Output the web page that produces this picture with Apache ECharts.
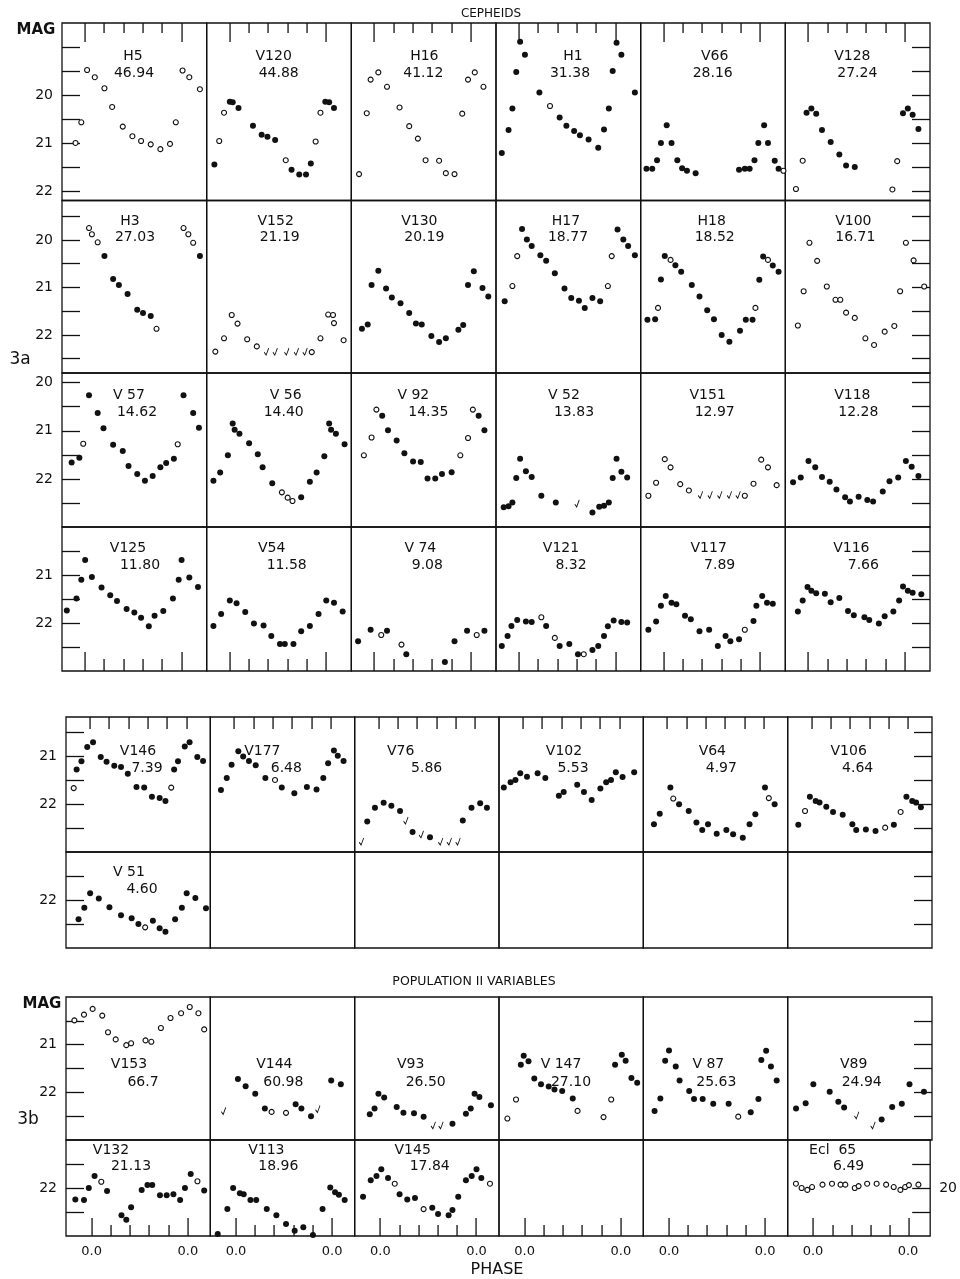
<!DOCTYPE html>
<html>
<head>
<meta charset="utf-8">
<script src="https://cdn.jsdelivr.net/npm/echarts@6/dist/echarts.min.js"></script>
<style>
  html, body { margin: 0; padding: 0; background: #ffffff; }
  #chart { width: 960px; height: 1279px; }
</style>
</head>
<body>
<div id="chart"></div>
<script>
// Light curves: each point is [phase, magnitude, kind]
// kind: 'f' = filled dot, 'o' = open circle, 'v' = fainter-than limit (check mark)

// ---- Cepheids, row 1
const H5 = [[-0.10,21.00,'o'],[-0.04,20.57,'o'],[0.02,19.48,'o'],[0.10,19.63,'o'],[0.20,19.86,'o'],[0.28,20.25,'o'],[0.39,20.66,'o'],[0.49,20.86,'o'],[0.58,20.96,'o'],[0.68,21.03,'o'],[0.78,21.13,'o'],[0.88,21.02,'o'],[0.94,20.57,'o'],[1.01,19.49,'o'],[1.08,19.63,'o'],[1.19,19.88,'o']];
const V120 = [[-0.16,21.45,'f'],[-0.11,20.96,'o'],[-0.06,20.37,'o'],[0.00,20.14,'f'],[0.03,20.15,'f'],[0.09,20.27,'f'],[0.24,20.64,'f'],[0.33,20.83,'f'],[0.39,20.87,'f'],[0.47,20.94,'f'],[0.58,21.36,'o'],[0.64,21.56,'f'],[0.72,21.66,'f'],[0.79,21.66,'f'],[0.84,21.43,'f'],[0.89,20.97,'o'],[0.94,20.37,'o'],[0.99,20.14,'f'],[1.03,20.15,'f'],[1.08,20.27,'f']];
const H16 = [[-0.16,21.65,'o'],[-0.08,20.38,'o'],[-0.04,19.68,'o'],[0.04,19.53,'o'],[0.13,19.83,'o'],[0.26,20.26,'o'],[0.36,20.65,'o'],[0.45,20.91,'o'],[0.53,21.36,'o'],[0.67,21.37,'o'],[0.74,21.63,'o'],[0.83,21.65,'o'],[0.91,20.39,'o'],[0.97,19.68,'o'],[1.04,19.53,'o'],[1.13,19.83,'o']];
const H1 = [[-0.18,21.21,'f'],[-0.11,20.73,'f'],[-0.07,20.28,'f'],[-0.03,19.52,'f'],[0.01,18.89,'f'],[0.06,19.16,'f'],[0.21,19.95,'f'],[0.32,20.23,'o'],[0.42,20.47,'f'],[0.49,20.64,'f'],[0.57,20.75,'f'],[0.63,20.84,'f'],[0.72,20.93,'f'],[0.82,21.10,'f'],[0.88,20.72,'f'],[0.93,20.28,'f'],[0.97,19.50,'f'],[1.01,18.91,'f'],[1.06,19.16,'f'],[1.20,19.95,'f']];
const V66 = [[-0.18,21.54,'f'],[-0.12,21.54,'f'],[-0.07,21.36,'f'],[-0.03,21.00,'f'],[0.03,20.63,'f'],[0.08,21.00,'f'],[0.14,21.36,'f'],[0.19,21.53,'f'],[0.24,21.58,'f'],[0.33,21.63,'f'],[0.78,21.56,'f'],[0.84,21.54,'f'],[0.89,21.54,'f'],[0.94,21.36,'f'],[0.98,21.00,'f'],[1.04,20.63,'f'],[1.08,21.00,'f'],[1.15,21.37,'f'],[1.19,21.54,'f'],[1.24,21.58,'o']];
const V128 = [[-0.13,21.96,'o'],[-0.06,21.37,'o'],[-0.02,20.37,'f'],[0.03,20.28,'f'],[0.08,20.39,'f'],[0.14,20.73,'f'],[0.23,20.98,'f'],[0.32,21.24,'f'],[0.39,21.47,'f'],[0.48,21.50,'f'],[0.87,21.97,'o'],[0.92,21.38,'o'],[0.98,20.38,'f'],[1.03,20.28,'f'],[1.08,20.41,'f'],[1.14,20.71,'f']];

// ---- Cepheids, row 2
const H3 = [[0.04,19.75,'o'],[0.07,19.88,'o'],[0.13,20.05,'o'],[0.20,20.34,'f'],[0.29,20.82,'f'],[0.35,20.95,'f'],[0.44,21.14,'f'],[0.54,21.47,'f'],[0.60,21.54,'f'],[0.68,21.60,'f'],[0.74,21.87,'o'],[1.02,19.75,'o'],[1.07,19.88,'o'],[1.12,20.06,'o'],[1.19,20.34,'f']];
const V152 = [[-0.15,22.35,'o'],[-0.06,22.07,'o'],[0.02,21.58,'o'],[0.08,21.76,'o'],[0.18,22.09,'o'],[0.28,22.24,'o'],[0.38,22.35,'v'],[0.47,22.35,'v'],[0.59,22.35,'v'],[0.69,22.35,'v'],[0.78,22.35,'v'],[0.85,22.36,'o'],[0.94,22.07,'o'],[1.02,21.57,'o'],[1.07,21.58,'o'],[1.08,21.75,'o'],[1.18,22.11,'o']];
const V130 = [[-0.13,21.87,'f'],[-0.07,21.78,'f'],[-0.03,20.95,'f'],[0.04,20.65,'f'],[0.12,21.02,'f'],[0.18,21.21,'f'],[0.27,21.33,'f'],[0.36,21.54,'f'],[0.43,21.76,'f'],[0.49,21.78,'f'],[0.59,22.02,'f'],[0.67,22.15,'f'],[0.74,22.07,'f'],[0.87,21.89,'f'],[0.92,21.79,'f'],[0.97,20.95,'f'],[1.03,20.66,'f'],[1.12,21.01,'f'],[1.18,21.19,'f']];
const H17 = [[-0.15,21.29,'f'],[-0.07,20.97,'o'],[-0.02,20.34,'o'],[0.03,19.77,'f'],[0.08,19.99,'f'],[0.13,20.13,'f'],[0.22,20.32,'f'],[0.28,20.44,'f'],[0.37,20.70,'f'],[0.47,21.02,'f'],[0.54,21.22,'f'],[0.62,21.28,'f'],[0.68,21.43,'f'],[0.76,21.22,'f'],[0.84,21.29,'f'],[0.92,20.97,'o'],[0.96,20.34,'o'],[1.02,19.78,'f'],[1.08,19.99,'f'],[1.13,20.13,'f'],[1.20,20.32,'f']];
const H18 = [[-0.17,21.68,'f'],[-0.09,21.67,'f'],[-0.06,21.43,'o'],[-0.03,20.83,'f'],[0.01,20.34,'f'],[0.07,20.42,'o'],[0.12,20.53,'f'],[0.18,20.67,'f'],[0.29,20.95,'f'],[0.37,21.19,'f'],[0.45,21.48,'f'],[0.52,21.67,'f'],[0.60,22.00,'f'],[0.68,22.14,'f'],[0.79,21.91,'f'],[0.85,21.68,'f'],[0.92,21.68,'f'],[0.95,21.43,'o'],[0.99,20.84,'f'],[1.03,20.35,'f'],[1.08,20.42,'o'],[1.13,20.54,'f'],[1.19,20.67,'f']];
const V100 = [[-0.11,21.80,'o'],[-0.05,21.08,'o'],[0.01,20.06,'o'],[0.09,20.44,'o'],[0.19,20.98,'o'],[0.28,21.26,'o'],[0.33,21.26,'o'],[0.39,21.53,'o'],[0.48,21.64,'o'],[0.59,22.07,'o'],[0.68,22.21,'o'],[0.79,21.93,'o'],[0.89,21.81,'o'],[0.95,21.08,'o'],[1.01,20.06,'o'],[1.09,20.43,'o'],[1.20,20.98,'o']];

// ---- Cepheids, row 3
const V57 = [[-0.14,21.66,'f'],[-0.06,21.56,'f'],[-0.02,21.27,'o'],[0.04,20.26,'f'],[0.13,20.63,'f'],[0.19,20.95,'f'],[0.29,21.29,'f'],[0.39,21.42,'f'],[0.45,21.73,'f'],[0.54,21.90,'f'],[0.62,22.04,'f'],[0.70,21.94,'f'],[0.78,21.76,'f'],[0.84,21.67,'f'],[0.92,21.58,'f'],[0.96,21.28,'o'],[1.02,20.26,'f'],[1.12,20.63,'f'],[1.18,20.94,'f']];
const V56 = [[-0.17,22.04,'f'],[-0.10,21.87,'f'],[-0.02,21.51,'f'],[0.03,20.85,'f'],[0.05,20.98,'f'],[0.10,21.06,'f'],[0.20,21.26,'f'],[0.29,21.49,'f'],[0.34,21.76,'f'],[0.44,22.09,'f'],[0.54,22.28,'o'],[0.60,22.39,'o'],[0.65,22.46,'o'],[0.74,22.38,'f'],[0.83,22.06,'f'],[0.90,21.87,'f'],[0.98,21.53,'f'],[1.03,20.85,'f'],[1.05,20.98,'f'],[1.10,21.06,'f'],[1.19,21.28,'f']];
const V92 = [[-0.11,21.51,'o'],[-0.03,21.14,'o'],[0.02,20.56,'o'],[0.08,20.69,'f'],[0.14,20.99,'f'],[0.23,21.20,'f'],[0.31,21.47,'f'],[0.40,21.64,'f'],[0.48,21.65,'f'],[0.55,21.99,'f'],[0.63,21.99,'f'],[0.70,21.90,'f'],[0.80,21.86,'f'],[0.89,21.51,'o'],[0.97,21.15,'o'],[1.02,20.56,'o'],[1.08,20.69,'f'],[1.14,20.99,'f']];
const V52 = [[-0.16,22.59,'f'],[-0.11,22.57,'f'],[-0.07,22.49,'f'],[-0.03,21.98,'f'],[0.01,21.58,'f'],[0.07,21.84,'f'],[0.13,21.96,'f'],[0.23,22.35,'f'],[0.38,22.49,'f'],[0.60,22.51,'v'],[0.76,22.70,'f'],[0.83,22.58,'f'],[0.88,22.56,'f'],[0.93,22.49,'f'],[0.97,21.98,'f'],[1.01,21.58,'f'],[1.06,21.85,'f'],[1.12,21.97,'f']];
const V151 = [[-0.16,22.35,'o'],[-0.08,22.08,'o'],[0.01,21.59,'o'],[0.07,21.76,'o'],[0.17,22.11,'o'],[0.26,22.24,'o'],[0.38,22.33,'v'],[0.48,22.33,'v'],[0.58,22.33,'v'],[0.68,22.33,'v'],[0.77,22.33,'v'],[0.84,22.35,'o'],[0.93,22.10,'o'],[1.01,21.60,'o'],[1.08,21.76,'o'],[1.17,22.13,'o']];
const V118 = [[-0.16,22.07,'f'],[-0.08,21.97,'f'],[0.00,21.63,'f'],[0.07,21.76,'f'],[0.14,21.96,'f'],[0.22,22.06,'f'],[0.29,22.22,'f'],[0.38,22.38,'f'],[0.43,22.47,'f'],[0.52,22.37,'f'],[0.61,22.44,'f'],[0.67,22.47,'f'],[0.77,22.26,'f'],[0.84,22.05,'f'],[0.93,21.97,'f'],[1.01,21.63,'f'],[1.07,21.75,'f'],[1.14,21.94,'f']];

// ---- Cepheids, row 4
const V125 = [[-0.19,21.74,'f'],[-0.09,21.49,'f'],[-0.04,21.10,'f'],[0.00,20.69,'f'],[0.07,21.04,'f'],[0.17,21.26,'f'],[0.26,21.42,'f'],[0.33,21.54,'f'],[0.43,21.71,'f'],[0.51,21.78,'f'],[0.58,21.89,'f'],[0.66,22.07,'f'],[0.72,21.85,'f'],[0.81,21.75,'f'],[0.91,21.49,'f'],[0.97,21.10,'f'],[1.00,20.69,'f'],[1.08,21.05,'f'],[1.17,21.25,'f']];
const V54 = [[-0.17,22.06,'f'],[-0.09,21.81,'f'],[0.00,21.53,'f'],[0.07,21.59,'f'],[0.16,21.77,'f'],[0.25,22.01,'f'],[0.35,22.05,'f'],[0.43,22.27,'f'],[0.52,22.44,'f'],[0.57,22.44,'f'],[0.66,22.44,'f'],[0.74,22.17,'f'],[0.83,22.06,'f'],[0.92,21.81,'f'],[1.00,21.53,'f'],[1.08,21.58,'f'],[1.17,21.76,'f']];
const V74 = [[-0.17,22.38,'f'],[-0.04,22.14,'f'],[0.07,22.25,'o'],[0.13,22.16,'f'],[0.28,22.45,'o'],[0.33,22.65,'f'],[0.73,22.81,'f'],[0.83,22.38,'f'],[0.96,22.16,'f'],[1.06,22.25,'o'],[1.14,22.16,'f']];
const V121 = [[-0.18,22.48,'f'],[-0.12,22.27,'f'],[-0.08,22.06,'f'],[-0.02,21.94,'f'],[0.07,21.97,'f'],[0.13,21.98,'f'],[0.23,21.88,'o'],[0.28,22.06,'f'],[0.37,22.31,'o'],[0.42,22.48,'f'],[0.52,22.44,'f'],[0.61,22.65,'f'],[0.67,22.65,'o'],[0.76,22.56,'f'],[0.82,22.48,'f'],[0.88,22.27,'f'],[0.92,22.07,'f'],[0.98,21.95,'f'],[1.06,21.98,'f'],[1.12,21.99,'f']];
const V117 = [[-0.16,22.14,'f'],[-0.08,21.97,'f'],[-0.03,21.64,'f'],[0.02,21.44,'f'],[0.08,21.58,'f'],[0.13,21.61,'f'],[0.22,21.85,'f'],[0.28,21.92,'f'],[0.37,22.17,'f'],[0.47,22.14,'f'],[0.56,22.48,'f'],[0.64,22.27,'f'],[0.69,22.38,'f'],[0.78,22.34,'f'],[0.84,22.14,'o'],[0.93,21.96,'f'],[0.96,21.64,'f'],[1.02,21.44,'f'],[1.07,21.58,'f'],[1.13,21.60,'f']];
const V116 = [[-0.11,21.76,'f'],[-0.06,21.53,'f'],[-0.01,21.25,'f'],[0.03,21.33,'f'],[0.08,21.38,'f'],[0.17,21.39,'f'],[0.23,21.57,'f'],[0.32,21.48,'f'],[0.41,21.75,'f'],[0.47,21.84,'f'],[0.58,21.88,'f'],[0.63,21.94,'f'],[0.73,22.01,'f'],[0.79,21.86,'f'],[0.88,21.76,'f'],[0.94,21.53,'f'],[0.98,21.24,'f'],[1.03,21.33,'f'],[1.08,21.37,'f'],[1.17,21.40,'f']];

// ---- Short-period Cepheids
const V146 = [[-0.17,21.66,'o'],[-0.14,21.27,'f'],[-0.09,21.10,'f'],[-0.03,20.80,'f'],[0.03,20.70,'f'],[0.11,21.01,'f'],[0.17,21.11,'f'],[0.25,21.19,'f'],[0.32,21.22,'f'],[0.39,21.36,'f'],[0.48,21.64,'f'],[0.56,21.65,'f'],[0.64,21.84,'f'],[0.72,21.87,'f'],[0.78,21.93,'f'],[0.84,21.65,'o'],[0.87,21.27,'f'],[0.91,21.10,'f'],[0.98,20.79,'f'],[1.03,20.70,'f'],[1.11,21.01,'f'],[1.17,21.09,'f']];
const V177 = [[-0.14,21.70,'f'],[-0.08,21.45,'f'],[-0.03,21.17,'f'],[0.04,20.89,'f'],[0.09,21.00,'f'],[0.15,21.09,'f'],[0.22,21.18,'f'],[0.32,21.45,'f'],[0.42,21.49,'o'],[0.49,21.65,'f'],[0.62,21.77,'f'],[0.75,21.64,'f'],[0.85,21.69,'f'],[0.92,21.45,'f'],[0.97,21.14,'f'],[1.03,20.87,'f'],[1.07,20.98,'f'],[1.13,21.09,'f']];
const V76 = [[-0.18,22.78,'v'],[-0.12,22.36,'f'],[-0.04,22.07,'f'],[0.05,21.97,'f'],[0.13,22.03,'f'],[0.22,22.14,'f'],[0.28,22.34,'v'],[0.35,22.58,'f'],[0.44,22.63,'v'],[0.53,22.69,'f'],[0.64,22.78,'v'],[0.73,22.78,'v'],[0.82,22.78,'v'],[0.87,22.34,'f'],[0.96,22.07,'f'],[1.05,21.98,'f'],[1.12,22.07,'f']];
const V102 = [[-0.20,21.65,'f'],[-0.13,21.54,'f'],[-0.08,21.49,'f'],[-0.03,21.35,'f'],[0.04,21.42,'f'],[0.15,21.35,'f'],[0.23,21.45,'f'],[0.37,21.82,'f'],[0.42,21.74,'f'],[0.56,21.59,'f'],[0.63,21.74,'f'],[0.71,21.91,'f'],[0.80,21.67,'f'],[0.86,21.54,'f'],[0.91,21.49,'f'],[0.96,21.33,'f'],[1.03,21.43,'f'],[1.15,21.33,'f']];
const V64 = [[-0.14,22.42,'f'],[-0.08,22.20,'f'],[0.03,21.65,'f'],[0.06,21.88,'o'],[0.12,22.00,'f'],[0.22,22.14,'f'],[0.30,22.38,'f'],[0.36,22.54,'f'],[0.42,22.42,'f'],[0.51,22.62,'f'],[0.61,22.54,'f'],[0.68,22.63,'f'],[0.78,22.70,'f'],[0.85,22.42,'f'],[0.91,22.21,'f'],[1.01,21.65,'f'],[1.05,21.87,'o'],[1.11,22.00,'f']];
const V106 = [[-0.14,22.43,'f'],[-0.07,22.14,'o'],[-0.02,21.84,'f'],[0.04,21.93,'f'],[0.08,21.96,'f'],[0.15,22.05,'f'],[0.22,22.16,'f'],[0.32,22.22,'f'],[0.42,22.42,'f'],[0.46,22.54,'f'],[0.56,22.53,'f'],[0.66,22.56,'f'],[0.76,22.49,'o'],[0.85,22.43,'f'],[0.92,22.16,'o'],[0.98,21.84,'f'],[1.04,21.93,'f'],[1.08,21.96,'f'],[1.13,22.06,'f']];
const V51 = [[-0.12,22.40,'f'],[-0.06,22.16,'f'],[0.00,21.86,'f'],[0.09,21.97,'f'],[0.20,22.15,'f'],[0.32,22.32,'f'],[0.43,22.38,'f'],[0.50,22.50,'f'],[0.57,22.57,'o'],[0.65,22.43,'f'],[0.72,22.59,'f'],[0.78,22.66,'f'],[0.88,22.40,'f'],[0.95,22.16,'f'],[1.00,21.86,'f'],[1.09,21.96,'f'],[1.20,22.17,'f']];

// ---- Population II variables
const V153 = [[-0.18,20.49,'o'],[-0.08,20.37,'o'],[0.01,20.25,'o'],[0.11,20.39,'o'],[0.17,20.74,'o'],[0.25,20.89,'o'],[0.36,21.01,'o'],[0.41,20.97,'o'],[0.56,20.91,'o'],[0.62,20.94,'o'],[0.72,20.65,'o'],[0.82,20.44,'o'],[0.93,20.34,'o'],[1.02,20.21,'o'],[1.11,20.34,'o'],[1.17,20.68,'o']];
const V144 = [[-0.13,22.39,'v'],[0.02,21.72,'f'],[0.10,21.87,'f'],[0.20,22.03,'f'],[0.30,22.34,'f'],[0.37,22.41,'o'],[0.52,22.43,'o'],[0.62,22.25,'f'],[0.68,22.34,'f'],[0.78,22.50,'f'],[0.85,22.35,'v'],[0.99,21.75,'f'],[1.09,21.83,'f']];
const V93 = [[-0.11,22.46,'f'],[-0.06,22.34,'f'],[-0.02,22.03,'f'],[0.04,22.11,'f'],[0.17,22.31,'f'],[0.24,22.43,'f'],[0.35,22.44,'f'],[0.45,22.51,'f'],[0.55,22.69,'v'],[0.63,22.69,'v'],[0.75,22.66,'f'],[0.89,22.45,'f'],[0.94,22.34,'f'],[0.98,22.03,'f'],[1.03,22.10,'f'],[1.15,22.27,'f']];
const V147 = [[-0.18,22.55,'o'],[-0.09,22.15,'o'],[-0.04,21.42,'f'],[-0.01,21.23,'f'],[0.04,21.35,'f'],[0.10,21.71,'f'],[0.17,21.83,'f'],[0.25,21.88,'f'],[0.31,21.94,'f'],[0.39,21.97,'f'],[0.50,22.13,'f'],[0.55,22.39,'o'],[0.82,22.52,'o'],[0.90,22.15,'o'],[0.94,21.42,'f'],[1.01,21.21,'f'],[1.05,21.34,'f'],[1.11,21.70,'f'],[1.17,21.80,'f']];
const V87 = [[-0.15,22.39,'f'],[-0.09,22.13,'f'],[-0.04,21.34,'f'],[0.00,21.12,'f'],[0.07,21.46,'f'],[0.11,21.75,'f'],[0.21,21.97,'f'],[0.26,22.14,'f'],[0.35,22.14,'f'],[0.46,22.24,'f'],[0.62,22.24,'f'],[0.72,22.51,'o'],[0.85,22.42,'f'],[0.93,22.14,'f'],[0.96,21.32,'f'],[1.01,21.13,'f'],[1.06,21.46,'f'],[1.12,21.75,'f']];
const V89 = [[-0.18,22.34,'f'],[-0.08,22.23,'f'],[0.00,21.83,'f'],[0.17,21.99,'f'],[0.26,22.20,'f'],[0.32,22.32,'f'],[0.45,22.48,'v'],[0.62,22.69,'v'],[0.71,22.57,'f'],[0.82,22.31,'f'],[0.92,22.24,'f'],[1.00,21.83,'f'],[1.15,21.99,'f']];
const V132 = [[-0.17,22.24,'f'],[-0.08,22.25,'f'],[-0.03,22.00,'f'],[0.03,21.75,'f'],[0.10,21.87,'o'],[0.16,22.06,'f'],[0.31,22.57,'f'],[0.36,22.66,'f'],[0.41,22.40,'f'],[0.52,22.04,'f'],[0.58,21.94,'f'],[0.63,21.94,'f'],[0.71,22.15,'f'],[0.78,22.15,'f'],[0.85,22.13,'f'],[0.92,22.25,'f'],[0.97,22.00,'f'],[1.03,21.71,'f'],[1.10,21.86,'o'],[1.17,22.05,'f']];
const V113 = [[-0.19,22.96,'f'],[-0.09,22.44,'f'],[-0.03,22.00,'f'],[0.04,22.11,'f'],[0.08,22.13,'f'],[0.15,22.25,'f'],[0.21,22.25,'f'],[0.32,22.44,'f'],[0.42,22.57,'f'],[0.52,22.75,'f'],[0.61,22.89,'f'],[0.70,22.82,'f'],[0.80,22.98,'f'],[0.90,22.44,'f'],[0.98,21.99,'f'],[1.03,22.09,'f'],[1.07,22.14,'f'],[1.13,22.25,'f']];
const V145 = [[-0.18,22.18,'f'],[-0.10,21.84,'f'],[-0.04,21.75,'f'],[0.01,21.61,'f'],[0.08,21.79,'f'],[0.15,21.91,'o'],[0.20,22.13,'f'],[0.28,22.24,'f'],[0.36,22.21,'f'],[0.45,22.44,'o'],[0.54,22.41,'f'],[0.60,22.54,'f'],[0.71,22.57,'f'],[0.75,22.46,'f'],[0.81,22.18,'f'],[0.89,21.84,'f'],[0.95,21.75,'f'],[1.00,21.61,'f'],[1.05,21.79,'f'],[1.14,21.91,'o']];
const ECL65 = [[-0.18,19.91,'o'],[-0.12,20.00,'o'],[-0.06,20.04,'o'],[-0.01,19.98,'o'],[0.10,19.93,'o'],[0.20,19.91,'o'],[0.29,19.93,'o'],[0.34,19.93,'o'],[0.44,20.00,'o'],[0.48,19.96,'o'],[0.57,19.91,'o'],[0.67,19.91,'o'],[0.77,19.93,'o'],[0.85,19.98,'o'],[0.92,20.04,'o'],[0.97,19.98,'o'],[1.01,19.94,'o'],[1.11,19.93,'o']];

// Star names and periods (days), one list per panel row; null = empty panel
const cephRow1 = [['H5','46.94',H5],['V120','44.88',V120],['H16','41.12',H16],['H1','31.38',H1],['V66','28.16',V66],['V128','27.24',V128]];
const cephRow2 = [['H3','27.03',H3],['V152','21.19',V152],['V130','20.19',V130],['H17','18.77',H17],['H18','18.52',H18],['V100','16.71',V100]];
const cephRow3 = [['V 57','14.62',V57],['V 56','14.40',V56],['V 92','14.35',V92],['V 52','13.83',V52],['V151','12.97',V151],['V118','12.28',V118]];
const cephRow4 = [['V125','11.80',V125],['V54','11.58',V54],['V 74','9.08',V74],['V121','8.32',V121],['V117','7.89',V117],['V116','7.66',V116]];
const shortRow1 = [['V146','7.39',V146],['V177','6.48',V177],['V76','5.86',V76],['V102','5.53',V102],['V64','4.97',V64],['V106','4.64',V106]];
const shortRow2 = [['V 51','4.60',V51],null,null,null,null,null];
const pop2Row1 = [['V153','66.7',V153],['V144','60.98',V144],['V93','26.50',V93],['V 147','27.10',V147],['V 87','25.63',V87],['V89','24.94',V89]];
const pop2Row2 = [['V132','21.13',V132],['V113','18.96',V113],['V145','17.84',V145],null,null,['Ecl  65','6.49',ECL65]];

// Axis tick values and labels
const magLabels3a = [[20,21,22],[20,21,22],[20,21,22],[21,22]];
const magLabelsShort = [[21,22],[22]];
const magLabels3b = [[21,22],[22]];
const eclLabels = [20];          // Ecl 65 has its own scale, labelled on the right
const phaseMajor = [0, 1];
const phaseMinor = [0.2, 0.4, 0.6, 0.8];
const phaseLabels = ['0.0', '0.0'];

// ---------------- layout ----------------
const INK = '#111111';
const FONT = 'DejaVu Sans';

// lx: label centre offsets [name x, period x] from each panel's left edge
const BLOCKS = [
  { left: 62, right: 930, phase: [-0.24, 1.26], rows: [
    { top: 23, bottom: 200.5, mag: [18.5, 22.2], labels: magLabels3a[0], textY: [33, 50], edgeTicks: { side: 'top', long: 19, short: 10 }, panels: cephRow1,
      lx: [[71,72],[67,72],[73,72],[77,74],[74,72],[67,72]] },
    { top: 200.5, bottom: 373, mag: [19.17, 22.8], labels: magLabels3a[1], textY: [20.5, 36.5], panels: cephRow2,
      lx: [[68,73],[69,73],[68,73],[70,72],[71,74],[68,70]] },
    { top: 373, bottom: 527, mag: [19.8, 23.0], labels: magLabels3a[2], textY: [22, 39], panels: cephRow3,
      lx: [[67,75],[79,77],[62,77],[68,78],[67,74],[67,73]] },
    { top: 527, bottom: 671, mag: [20.0, 23.0], labels: magLabels3a[3], textY: [21, 38], edgeTicks: { side: 'bottom', long: 19, short: 12 }, panels: cephRow4,
      lx: [[66,78],[65,80],[69,76],[65,75],[68,79],[66,78]] }
  ]},
  { left: 66, right: 932, phase: [-0.25, 1.245], rows: [
    { top: 717, bottom: 852, mag: [20.17, 23.0], labels: magLabelsShort[0], textY: [34, 51], edgeTicks: { side: 'top', long: 12, short: 12 }, panels: shortRow1,
      lx: [[72,81],[52,76],[46,72],[65,74],[69,78],[61,70]] },
    { top: 852, bottom: 948, mag: [21.0, 23.0], labels: magLabelsShort[1], textY: [20, 37], panels: shortRow2,
      lx: [[63,76]] }
  ]},
  { left: 66, right: 932, phase: [-0.267, 1.234], rows: [
    { top: 997, bottom: 1140, mag: [20.0, 23.0], labels: magLabels3b[0], textY: [67, 85], panels: pop2Row1,
      lx: [[63,77],[64,73],[56,71],[62,72],[65,73],[66,74]] },
    { top: 1140, bottom: 1236, mag: [21.0, 23.0], labels: magLabels3b[1], textY: [10, 26], edgeTicks: { side: 'bottom', long: 18, short: 11 }, phaseText: phaseLabels, panels: pop2Row2,
      lx: [[45,65],[56,68],[58,75],[0,0],[0,0],[45,61]], ownScale: { col: 5, mag: [19.0, 21.0], labels: eclLabels } }
  ]}
];

const KIND = {
  f: { symbol: 'circle', symbolSize: 6, itemStyle: { color: INK, opacity: 1 } },
  o: { symbol: 'circle', symbolSize: 5, itemStyle: { color: '#ffffff', borderColor: INK, borderWidth: 1.1, opacity: 1 } },
  v: { symbol: 'path://M0,6 L3,10 L7,0', symbolSize: [4.5, 7], itemStyle: { color: 'rgba(0,0,0,0)', borderColor: INK, borderWidth: 1, opacity: 1 } }
};

function halfSteps(range) {
  const out = [];
  for (let m = Math.ceil(range[0] * 2) / 2; m <= range[1] + 1e-9; m += 0.5) {
    if (m - range[0] > 0.1 && range[1] - m > 0.1) out.push(m);
  }
  return out;
}

const grid = [], xAxis = [], yAxis = [], series = [], graphic = [];

BLOCKS.forEach(block => {
  const w = (block.right - block.left) / 6;
  const span = block.phase[1] - block.phase[0];
  block.rows.forEach(row => {
    const h = row.bottom - row.top;
    const et = row.edgeTicks || null;
    for (let c = 0; c < 6; c++) {
      const gi = grid.length;
      const x0 = block.left + c * w;
      grid.push({ left: x0, top: row.top, width: w, height: h, show: true,
        borderColor: INK, borderWidth: 1.3, backgroundColor: 'transparent' });

      // phase axis; only block 3b's bottom row carries printed labels
      const xi = xAxis.length;
      const xa = { gridIndex: gi, type: 'value', min: block.phase[0], max: block.phase[1],
        position: 'bottom',
        axisLine: { show: false, onZero: false }, splitLine: { show: false },
        axisTick: { show: false }, axisLabel: { show: false } };
      if (row.phaseText) {
        const txt = row.phaseText;
        xa.axisLabel = { show: true, customValues: phaseMajor, margin: 9,
          formatter: v => (v < 0.5 ? txt[0] : txt[1]),
          fontFamily: FONT, fontSize: 13, color: INK };
      }
      xAxis.push(xa);

      // magnitude axis (brighter upward)
      const own = row.ownScale && row.ownScale.col === c ? row.ownScale : null;
      const magRange = own ? own.mag : row.mag;
      const yi = yAxis.length;
      const ya = { gridIndex: gi, type: 'value', inverse: true, min: magRange[0], max: magRange[1],
        position: c === 5 ? 'right' : 'left',
        axisLine: { show: false, onZero: false }, splitLine: { show: false },
        axisLabel: { show: false }, axisTick: { show: false } };
      if (c === 0 || c === 5) {
        ya.axisTick = { show: true, inside: true, length: 18, customValues: halfSteps(magRange),
          lineStyle: { color: INK, width: 1.3 } };
        const labs = c === 0 ? row.labels : (own ? own.labels : null);
        if (labs) {
          ya.axisLabel = { show: true, customValues: labs, margin: 9, formatter: v => String(Math.round(v)),
            fontFamily: FONT, fontSize: 14, color: INK };
        }
      }
      yAxis.push(ya);

      // phase tick marks along the panel's top or bottom edge
      if (et) {
        const edgeY = et.side === 'top' ? row.top : row.bottom;
        const marks = phaseMajor.map(ph => [ph, et.long]).concat(phaseMinor.map(ph => [ph, et.short]));
        marks.forEach(([ph, len]) => {
          const px = Math.round(x0 + (ph - block.phase[0]) / span * w);
          graphic.push({ type: 'rect', silent: true, z: 50,
            shape: { x: px - 0.6, y: et.side === 'top' ? edgeY : edgeY - len, width: 1.3, height: len },
            style: { fill: INK } });
        });
      }

      const panel = row.panels[c];
      if (!panel) continue;
      const [name, period, pts] = panel;
      ['f', 'o', 'v'].forEach(k => {
        const data = pts.filter(d => d[2] === k).map(d => [d[0], d[1]]);
        if (!data.length) return;
        series.push(Object.assign({ type: 'scatter', xAxisIndex: xi, yAxisIndex: yi, data,
          silent: true, z: 5, clip: false }, KIND[k]));
      });
      const lx = row.lx[c] || [w / 2, w / 2];
      [[name, lx[0], row.textY[0]], [period, lx[1], row.textY[1]]].forEach(([txt, dx, dy]) => {
        graphic.push({ type: 'text', x: x0 + dx, y: row.top + dy, silent: true,
          style: { text: txt, font: '14px "' + FONT + '"', fill: INK,
            align: 'center', verticalAlign: 'middle', textAlign: 'center', textVerticalAlign: 'middle' } });
      });
    }
  });
});

// figure captions and axis titles
function caption(text, x, y, font) {
  graphic.push({ type: 'text', x, y, silent: true, style: { text, font, fill: INK,
    align: 'center', verticalAlign: 'middle', textAlign: 'center', textVerticalAlign: 'middle' } });
}
caption('CEPHEIDS', 491, 14, '12px "' + FONT + '"');
caption('MAG', 36, 30, 'bold 15px "' + FONT + '"');
caption('3a', 20, 360, '17px "' + FONT + '"');
caption('POPULATION II VARIABLES', 474, 982, '12.5px "' + FONT + '"');
caption('MAG', 42, 1004, 'bold 15px "' + FONT + '"');
caption('3b', 28, 1120, '17px "' + FONT + '"');
caption('PHASE', 497, 1270, '16px "' + FONT + '"');

const chart = echarts.init(document.getElementById('chart'), null, { renderer: 'canvas' });
chart.setOption({
  animation: false,
  backgroundColor: '#ffffff',
  grid, xAxis, yAxis, series,
  graphic: { elements: graphic }
});
</script>
</body>
</html>
